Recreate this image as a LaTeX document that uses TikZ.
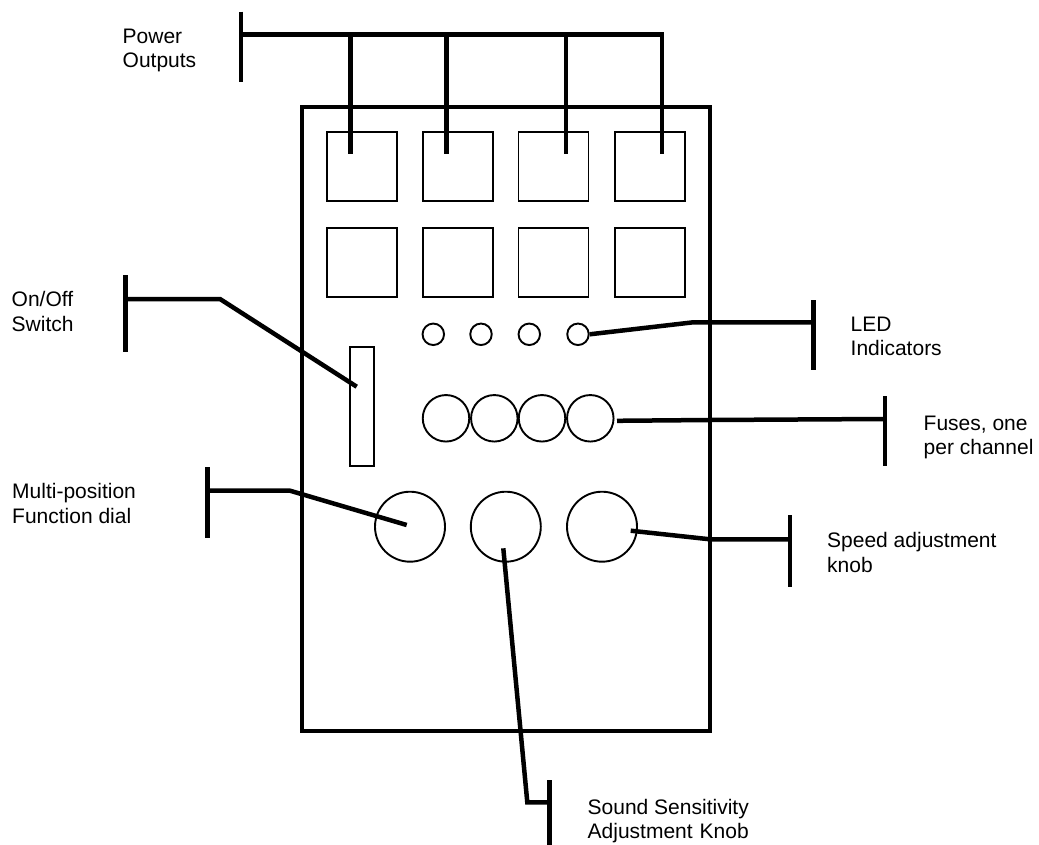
\documentclass[tikz,border=0pt]{standalone}
\usepackage{fontspec}
\setmainfont{Liberation Sans}
\begin{document}
\begin{tikzpicture}[x=1pt,y=-1pt,
  heavy/.style={line width=4.5pt},
  part/.style={draw,line width=1.9pt,inner sep=0pt},
  sq/.style={part,rectangle,minimum width=70pt,minimum height=69pt},
  led/.style={part,circle,minimum size=21.5pt},
  fuse/.style={part,circle,minimum size=46.5pt},
  knob/.style={part,circle,minimum size=70pt},
  lbl/.style={anchor=base west,inner sep=0pt,font=\fontsize{21}{24.7}\selectfont},
]
\useasboundingbox[fill=white] (0,0) rectangle (1039,845);

% main enclosure
\node[draw,heavy,rectangle,inner sep=0pt,minimum width=408pt,minimum height=624pt] (panel) at (506,418.8) {};

% power outputs
\node[sq] (o1) at (361.8,166.5) {};
\node[sq] (o2) at (457.9,166.5) {};
\node[sq] (o3) at (553.5,166.5) {};
\node[sq] (o4) at (649.6,166.5) {};
\node[sq] (o5) at (361.8,262.3) {};
\node[sq] (o6) at (457.9,262.3) {};
\node[sq] (o7) at (553.5,262.3) {};
\node[sq] (o8) at (649.6,262.3) {};

% LEDs
\node[led] (l1) at (433.3,334.3) {};
\node[led] (l2) at (481,334.3) {};
\node[led] (l3) at (529.3,334.3) {};
\node[led] (l4) at (578,334.3) {};

% fuses
\node[fuse] (f1) at (446,418.3) {};
\node[fuse] (f2) at (494.3,418.3) {};
\node[fuse] (f3) at (542,418.3) {};
\node[fuse] (f4) at (590.3,418.3) {};

% switch
\node[part,rectangle,minimum width=24pt,minimum height=119pt] (sw) at (362,406.7) {};

% knobs
\node[knob] (k1) at (410,526.7) {};
\node[knob] (k2) at (505.8,526.7) {};
\node[knob] (k3) at (602,526.7) {};

% labels
\node[lbl] (tPow) at (122.5,43.3) {\vtop{\hbox{Power}\hbox{Outputs}}};
\node[lbl] (tSw) at (11.5,306.7) {\vtop{\hbox{On/Off}\hbox{Switch}}};
\node[lbl] (tLed) at (850.5,331) {\vtop{\hbox{LED}\hbox{Indicators}}};
\node[lbl] (tFuse) at (923.5,430) {\vtop{\hbox{Fuses, one}\hbox{per channel}}};
\node[lbl] (tMul) at (12,498.3) {\vtop{\hbox{Multi-position}\hbox{Function dial}}};
\node[lbl] (tSpd) at (827,547.3) {\vtop{\hbox{Speed adjustment}\hbox{knob}}};
\node[lbl] (tSnd) at (587.5,814) {\vtop{\hbox{Sound Sensitivity}\hbox{Adjustment\hskip 7pt Knob}}};

% bracket coordinates
\coordinate (pwA) at (240.8,11.7);
\coordinate (pwB) at (240.8,81.7);
\coordinate (pwJ) at (240.8,34.3);
\coordinate (d1) at (350.7,154);
\coordinate (d2) at (446.3,154);
\coordinate (d3) at (566.1,154);
\coordinate (d4) at (661.8,154);

\coordinate (swA) at (125.7,275);
\coordinate (swB) at (125.7,351.7);
\coordinate (swJ) at (125.7,299);
\coordinate (swK) at (220,299);
\coordinate (swE) at (356.7,386.7);

\coordinate (ldA) at (813.3,300);
\coordinate (ldB) at (813.3,370);
\coordinate (ldJ) at (813.3,322.3);
\coordinate (ldK) at (693.3,322.3);

\coordinate (fuA) at (885,396);
\coordinate (fuB) at (885,466);
\coordinate (fuJ) at (885,419);
\coordinate (fuK) at (710,420);

\coordinate (muA) at (207.7,467.3);
\coordinate (muB) at (207.7,538.3);
\coordinate (muJ) at (207.7,490.7);
\coordinate (muK) at (290,490.7);
\coordinate (muE) at (406.7,525);

\coordinate (spA) at (790,515);
\coordinate (spB) at (790,586.7);
\coordinate (spJ) at (790,539.3);
\coordinate (spK) at (710,539.3);
\coordinate (spE) at (630.7,530.7);

\coordinate (snA) at (549.3,780);
\coordinate (snB) at (549.3,850);
\coordinate (snJ) at (549.3,802.3);
\coordinate (snK) at (527.3,802.3);
\coordinate (snE) at (503.3,548.3);

% connectors
\begin{scope}[heavy]
\draw (pwA) -- (pwB);
\draw (pwJ) -- (d4 |- pwJ) -- (d4);
\draw (d1 |- pwJ) -- (d1);
\draw (d2 |- pwJ) -- (d2);
\draw (d3 |- pwJ) -- (d3);

\draw (swA) -- (swB);
\draw (swJ) -- (swK) -- (swE);

\draw (ldA) -- (ldB);
\draw (l4.east) -- (ldK) -- (ldJ);

\draw (fuA) -- (fuB);
\draw ([xshift=2.5pt,yshift=-2.5pt]f4.east) -- (fuK) -- (fuJ);

\draw (muA) -- (muB);
\draw (muJ) -- (muK) -- (muE);

\draw (spA) -- (spB);
\draw (spE) -- (spK) -- (spJ);

\draw (snA) -- (snB);
\draw (snE) -- (snK) -- (snJ);
\end{scope}
\end{tikzpicture}
\end{document}
